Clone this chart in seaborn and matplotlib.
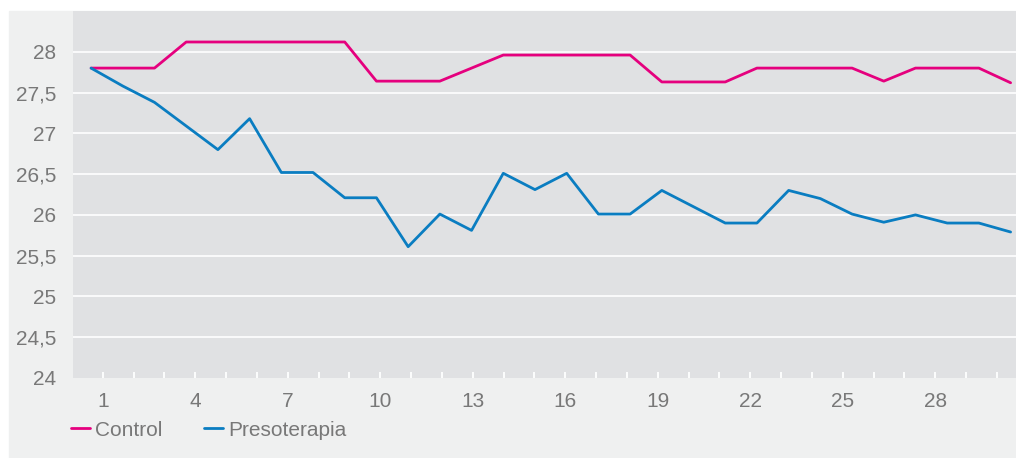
import pandas as pd
import matplotlib
matplotlib.use('Agg')
import matplotlib.pyplot as plt
from matplotlib.patches import Rectangle
import seaborn as sns

# data
days = list(range(1, 31))
control = [27.8, 27.8, 27.8, 28.12, 28.12, 28.12, 28.12, 28.12, 28.12, 27.64,
           27.64, 27.64, 27.8, 27.96, 27.96, 27.96, 27.96, 27.96, 27.63, 27.63,
           27.63, 27.8, 27.8, 27.8, 27.8, 27.64, 27.8, 27.8, 27.8, 27.62]
presoterapia = [27.8, 27.58, 27.38, 27.09, 26.8, 27.18, 26.52, 26.52, 26.21, 26.21,
                25.61, 26.01, 25.81, 26.51, 26.31, 26.51, 26.01, 26.01, 26.3, 26.1,
                25.9, 25.9, 26.3, 26.2, 26.01, 25.91, 26.0, 25.9, 25.9, 25.79]
series_names = ["Control", "Presoterapia"]
series_colors = ["#e5007e", "#0a7dc1"]
label_days = [1, 4, 7, 10, 13, 16, 19, 22, 25, 28]
y_ticks = [24, 24.5, 25, 25.5, 26, 26.5, 27, 27.5, 28]

df = pd.DataFrame({
    "day": days * 2,
    "value": control + presoterapia,
    "group": [series_names[0]] * len(days) + [series_names[1]] * len(days),
})

sns.set_style("white", {"axes.facecolor": "#e0e1e3"})
plt.rcParams["font.family"] = ["Liberation Sans", "DejaVu Sans"]
text_color = "#787878"
fs = 15

fig = plt.figure(figsize=(10.16, 4.58), dpi=100)
fig.patch.set_facecolor("white")
fig.patches.append(Rectangle((9 / 1016, 0), 1007 / 1016, 447 / 458,
                             transform=fig.transFigure, color="#eff0f0", zorder=-5))

ax = fig.add_axes([73 / 1016, 80 / 458, 943 / 1016, 367 / 458])
sns.lineplot(data=df, x="day", y="value", hue="group", palette=series_colors,
             linewidth=2.0, ax=ax, zorder=3)

ax.set_xlim(0.43, 30.17)
ax.set_ylim(24, 28.5)
ax.set_yticks(y_ticks)
ax.set_yticklabels([f"{t:g}".replace(".", ",") for t in y_ticks])
ax.tick_params(axis="y", length=0, pad=12, labelsize=fs, labelcolor=text_color)
ax.set_xticks([])
ax.set_xlabel("")
ax.set_ylabel("")
ax.yaxis.grid(True, color="white", linewidth=1.2)
ax.get_ygridlines()[0].set_visible(False)
ax.set_axisbelow(True)
for s in ax.spines.values():
    s.set_visible(False)

# day labels sit on their own scale, slightly offset from the points
ax2 = ax.twiny()
ax2.set_xlim(0.037, 30.62)
ax2.xaxis.set_ticks_position("bottom")
ax2.xaxis.set_label_position("bottom")
ax2.set_xticks(days)
ax2.set_xticklabels([str(d) if d in label_days else "" for d in days])
ax2.tick_params(axis="x", direction="in", length=4, width=1.3, color="white",
                pad=10, labelsize=fs, labelcolor=text_color)
for s in ax2.spines.values():
    s.set_visible(False)

handles, labels = ax.get_legend_handles_labels()
ax.get_legend().remove()
leg = fig.legend(handles, labels, loc="center left",
                 bbox_to_anchor=(71 / 1016, 28 / 458), ncol=2, frameon=False,
                 fontsize=fs, handlelength=0.9, handletextpad=0.25,
                 columnspacing=2.0, borderpad=0, borderaxespad=0)
for t in leg.get_texts():
    t.set_color(text_color)

fig.savefig("out.png", dpi=100)
plt.close()
